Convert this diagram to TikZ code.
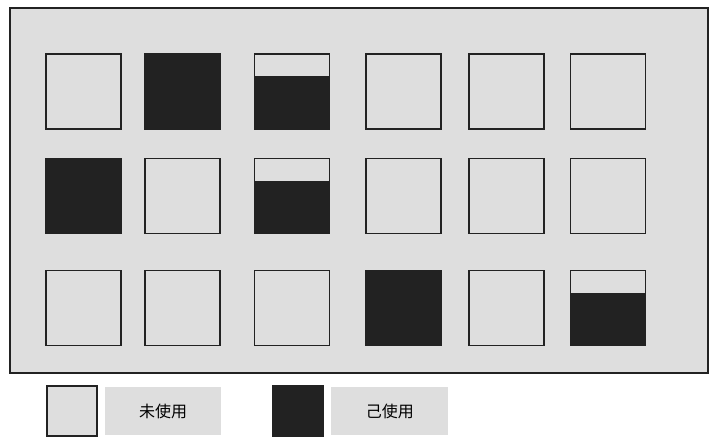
\documentclass[tikz,border=0pt]{standalone}
\usepackage{fontspec}
\newfontfamily\cjk{Noto Sans CJK SC}
\usetikzlibrary{positioning}
\definecolor{paper}{RGB}{222,222,222}
\definecolor{ink}{RGB}{34,34,34}
\tikzset{
  cell/.style={draw=ink,line width=1.3pt,fill=paper,minimum size=56.25pt,inner sep=0pt},
  used/.style={cell,fill=ink},
  half/.style={cell,path picture={\fill[ink] (path picture bounding box.south west) rectangle ([yshift=-16.5pt]path picture bounding box.north east);}},
  keycell/.style={cell,minimum size=37.5pt},
  keylabel/.style={fill=paper,minimum width=87pt,minimum height=36pt,inner sep=0pt,font=\cjk\fontsize{12pt}{14pt}\selectfont}
}
\begin{document}
\begin{tikzpicture}[x=0.75pt,y=-0.75pt]
\useasboundingbox (0,0) rectangle (716,442);
\draw[ink,line width=1.3pt,fill=paper] (10,8) rectangle (708,373);
\node[cell] (c11) at (83.5,91.5) {};
\node[used] (c12) at (182.5,91.5) {};
\node[half] (c13) at (292,91.5) {};
\node[cell] (c14) at (403.5,91.5) {};
\node[cell] (c15) at (506.5,91.5) {};
\node[cell] (c16) at (608,91.5) {};
\node[used] (c21) at (83.5,196) {};
\node[cell] (c22) at (182.5,196) {};
\node[half] (c23) at (292,196) {};
\node[cell] (c24) at (403.5,196) {};
\node[cell] (c25) at (506.5,196) {};
\node[cell] (c26) at (608,196) {};
\node[cell] (c31) at (83.5,308) {};
\node[cell] (c32) at (182.5,308) {};
\node[cell] (c33) at (292,308) {};
\node[used] (c34) at (403.5,308) {};
\node[cell] (c35) at (506.5,308) {};
\node[half] (c36) at (608,308) {};
\node[keycell] (free) at (72,411) {};
\node[keylabel,right=5.25pt of free] (freetext) {未使用};
\node[keycell,fill=ink] (busy) at (298,411) {};
\node[keylabel,right=5.25pt of busy,minimum width=88pt] (busytext) {己使用};
\end{tikzpicture}
\end{document}
